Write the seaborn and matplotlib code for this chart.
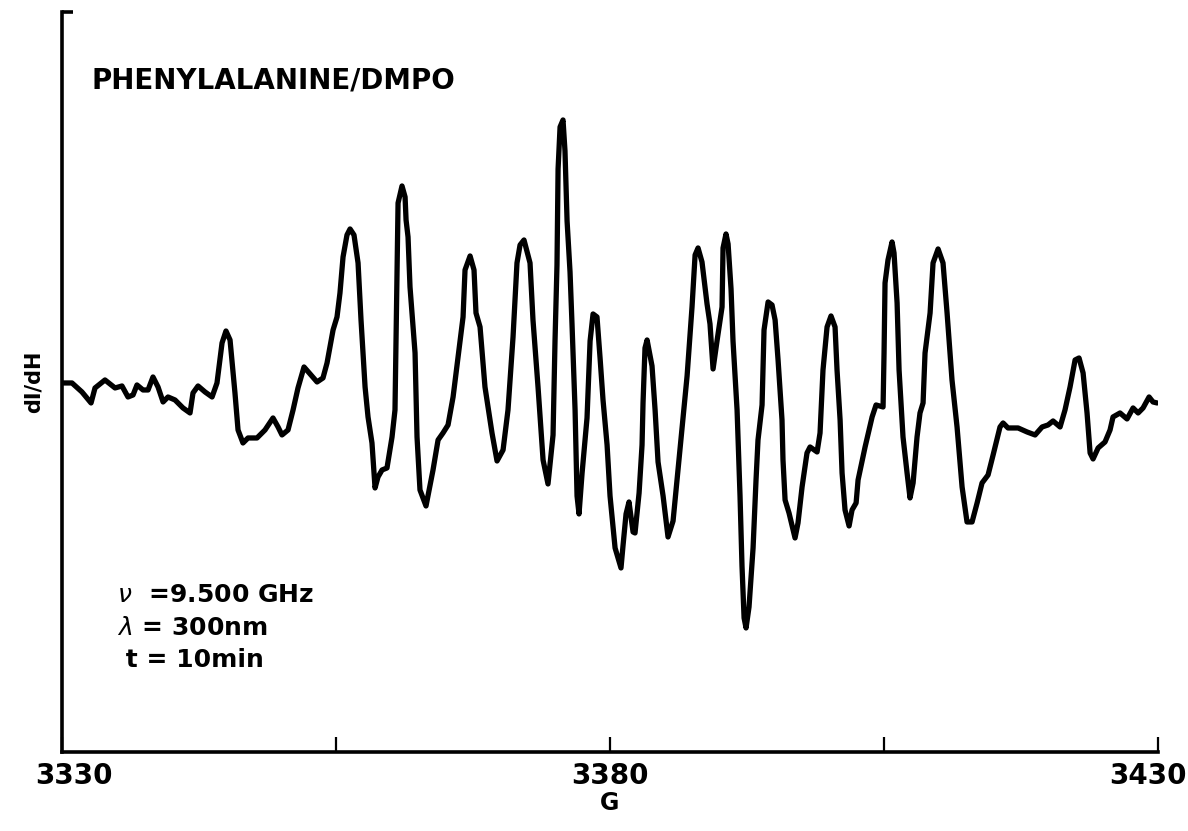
import matplotlib
matplotlib.use("Agg")
import matplotlib.pyplot as plt
import matplotlib.transforms as mtransforms
import seaborn as sns
import pandas as pd

# Magnetic field (G) and derivative signal dI/dH (arbitrary units)
field = [
    3330.00, 3330.91, 3331.82, 3332.65, 3333.01, 3333.92, 3334.84, 3335.47, 3336.02, 3336.48,
    3336.84, 3337.39, 3337.85, 3338.30, 3338.76, 3339.22, 3339.67, 3340.31, 3341.04, 3341.68,
    3341.95, 3342.41, 3343.05, 3343.69, 3344.14, 3344.60, 3344.96, 3345.33, 3345.78, 3346.06,
    3346.51, 3346.97, 3347.79, 3348.52, 3349.25, 3349.71, 3350.07, 3350.62, 3351.08, 3351.53,
    3352.08, 3352.63, 3353.27, 3353.81, 3354.18, 3354.73, 3355.09, 3355.36, 3355.64, 3356.00,
    3356.28, 3356.64, 3357.01, 3357.28, 3357.65, 3357.92, 3358.28, 3358.56, 3358.83, 3359.20,
    3359.65, 3360.11, 3360.38, 3360.57, 3360.66, 3361.02, 3361.30, 3361.39, 3361.57, 3361.75,
    3362.21, 3362.39, 3362.66, 3363.21, 3363.49, 3363.85, 3364.31, 3364.76, 3365.22, 3365.68,
    3366.13, 3366.59, 3366.77, 3367.23, 3367.59, 3367.77, 3368.14, 3368.59, 3369.23, 3369.69,
    3370.24, 3370.69, 3371.15, 3371.51, 3371.79, 3372.15, 3372.70, 3372.97, 3373.43, 3373.89,
    3374.34, 3374.80, 3374.98, 3375.16, 3375.26, 3375.44, 3375.71, 3375.89, 3376.08, 3376.35,
    3376.53, 3376.81, 3376.99, 3377.17, 3377.45, 3377.90, 3378.18, 3378.45, 3378.81, 3379.09,
    3379.36, 3379.73, 3380.00, 3380.46, 3381.00, 3381.19, 3381.46, 3381.73, 3382.10, 3382.28,
    3382.65, 3382.92, 3383.01, 3383.19, 3383.38, 3383.83, 3384.11, 3384.38, 3384.84, 3385.29,
    3385.75, 3386.11, 3386.57, 3387.03, 3387.48, 3387.76, 3388.03, 3388.39, 3388.85, 3389.12,
    3389.40, 3389.76, 3390.22, 3390.31, 3390.58, 3390.77, 3391.04, 3391.22, 3391.59, 3391.86,
    3392.04, 3392.23, 3392.41, 3392.68, 3393.05, 3393.32, 3393.50, 3393.87, 3394.05, 3394.42,
    3394.78, 3395.06, 3395.33, 3395.69, 3395.78, 3395.97, 3396.33, 3396.88, 3397.15, 3397.52,
    3397.97, 3398.25, 3398.89, 3399.16, 3399.43, 3399.80, 3400.16, 3400.53, 3400.71, 3400.99,
    3401.17, 3401.44, 3401.81, 3402.08, 3402.45, 3402.63, 3403.27, 3403.91, 3404.27, 3404.91,
    3405.00, 3405.09, 3405.36, 3405.73, 3405.91, 3406.19, 3406.37, 3406.73, 3407.10, 3407.37,
    3407.65, 3408.01, 3408.28, 3408.56, 3408.74, 3409.20, 3409.47, 3409.93, 3410.38, 3410.75,
    3411.20, 3411.66, 3412.12, 3412.57, 3413.03, 3413.49, 3413.94, 3414.49, 3414.95, 3415.58,
    3415.86, 3416.31, 3417.23, 3418.05, 3418.78, 3419.42, 3419.96, 3420.42, 3421.06, 3421.51,
    3421.97, 3422.43, 3422.79, 3423.16, 3423.52, 3423.80, 3424.07, 3424.53, 3425.16, 3425.62,
    3425.89, 3426.53, 3427.17, 3427.72, 3428.18, 3428.63, 3429.18, 3429.54, 3429.91,
]
signal = [
    1.7, 1.7, 0.8, -0.3, 1.2, 2.0, 1.2, 1.4, 0.3, 0.5,
    1.5, 1.0, 1.0, 2.3, 1.3, -0.2, 0.3, 0.0, -0.8, -1.3,
    0.7, 1.4, 0.8, 0.3, 1.7, 5.7, 6.9, 6.0, 0.7, -3.0,
    -4.3, -3.8, -3.8, -3.0, -1.8, -2.7, -3.5, -3.0, -1.0, 1.2,
    3.3, 2.6, 1.8, 2.2, 3.7, 7.0, 8.3, 10.7, 14.3, 16.5,
    17.1, 16.5, 13.7, 8.0, 1.3, -1.7, -4.3, -8.8, -7.7, -7.0,
    -6.8, -3.7, -1.0, 13.0, 19.7, 21.4, 20.3, 18.0, 16.3, 11.3,
    4.7, -3.7, -9.0, -10.6, -9.0, -7.0, -4.0, -3.3, -2.5, 0.3,
    4.3, 8.3, 13.0, 14.4, 13.0, 8.7, 7.3, 1.3, -3.3, -6.1,
    -5.0, -1.0, 6.3, 13.7, 15.5, 16.0, 13.7, 8.0, 1.3, -6.0,
    -8.4, -3.5, 5.9, 13.5, 23.1, 27.3, 28.0, 24.9, 17.9, 12.8,
    7.6, -1.0, -9.6, -11.4, -7.3, -1.8, 5.9, 8.6, 8.3, 4.2,
    0.0, -4.5, -9.6, -14.8, -16.8, -14.5, -11.4, -10.2, -13.2, -13.3,
    -9.3, -4.5, -0.3, 5.2, 6.0, 3.4, -1.0, -6.2, -9.6, -13.7,
    -12.1, -8.0, -2.8, 2.4, 9.3, 14.5, 15.2, 13.8, 9.6, 7.6,
    3.1, 5.9, 9.3, 15.2, 16.6, 15.6, 11.1, 5.9, -1.0, -9.6,
    -16.6, -21.8, -22.8, -20.7, -14.8, -8.0, -4.0, -0.5, 7.0, 9.8,
    9.5, 8.0, 4.0, -2.0, -6.0, -10.0, -11.3, -13.8, -12.3, -8.7,
    -5.3, -4.7, -5.2, -3.3, 3.0, 7.3, 8.4, 7.3, 3.0, -2.0,
    -7.3, -11.0, -12.6, -11.0, -10.3, -8.0, -4.7, -1.7, -0.5, -0.7,
    4.7, 11.7, 14.0, 15.8, 14.7, 9.7, 3.0, -3.7, -7.3, -9.8,
    -8.3, -3.7, -1.3, -0.3, 4.7, 8.7, 13.7, 15.1, 13.7, 8.7,
    2.0, -2.7, -8.7, -12.2, -12.2, -10.3, -8.3, -7.5, -5.5, -2.7,
    -2.3, -2.8, -2.8, -3.2, -3.5, -2.7, -2.5, -2.1, -2.7, -1.0,
    1.3, 4.0, 4.2, 2.7, -1.3, -5.3, -5.9, -4.8, -4.2, -3.0,
    -1.7, -1.3, -1.9, -0.8, -1.3, -0.8, 0.3, -0.2, -0.3,
]

x_ticks = [3330, 3355, 3380, 3405, 3430]
x_tick_labels = ["3330", "", "3380", "", "3430"]
title_text = "PHENYLALANINE/DMPO"
param_lines = [r"$\nu$  =9.500 GHz", r"$\lambda$ = 300nm", " t = 10min"]

df = pd.DataFrame({"G": field, "dI/dH": signal})

sns.set_theme(style="white")
plt.rcParams["font.family"] = ["DejaVu Sans"]
plt.rcParams["mathtext.fontset"] = "dejavusans"
plt.rcParams["text.color"] = "black"
plt.rcParams["axes.labelcolor"] = "black"

fig = plt.figure(figsize=(11.88, 8.31), dpi=100)
ax = fig.add_axes([0.0522, 0.0951, 0.9226, 0.8905])

sns.lineplot(data=df, x="G", y="dI/dH", sort=False, estimator=None,
             color="black", linewidth=3.8, ax=ax)
for ln in ax.get_lines():
    ln.set_solid_joinstyle("round")
    ln.set_solid_capstyle("round")

ax.set_xlim(3330, 3430)
ax.set_ylim(-35.2, 38.8)

for side in ["top", "right"]:
    ax.spines[side].set_visible(False)
for side in ["left", "bottom"]:
    ax.spines[side].set_color("black")
    ax.spines[side].set_linewidth(2.6)

ax.set_xticks(x_ticks)
ax.set_xticklabels(x_tick_labels, fontsize=20, fontweight="bold", color="black")
ax.tick_params(axis="x", which="major", bottom=True, direction="in", length=11,
               width=1.6, color="black", pad=7, labelcolor="black")
ax.set_yticks([38.8])
ax.set_yticklabels([""])
ax.tick_params(axis="y", which="major", left=True, direction="in", length=8,
               width=2.6, color="black")

# nudge the end labels inward like the original print
shifts = {0: 12, 4: -10}
for idx, dx in shifts.items():
    lab = ax.get_xticklabels()[idx]
    lab.set_transform(lab.get_transform() +
                      mtransforms.ScaledTranslation(dx / 100, 0, fig.dpi_scale_trans))

ax.set_xlabel("G", fontsize=17, fontweight="bold", labelpad=1, color="black")
ax.set_ylabel("dI/dH", fontsize=15, fontweight="bold", labelpad=10, color="black")

ax.text(0.027, 0.907, title_text, transform=ax.transAxes, fontsize=20,
        fontweight="bold", va="center", ha="left", color="black")
for i, line in enumerate(param_lines):
    ax.text(0.05, 0.212 - i * 0.044, line, transform=ax.transAxes, fontsize=18,
            fontweight="bold", va="center", ha="left", color="black")

fig.savefig("out.png", dpi=100, facecolor="white")
